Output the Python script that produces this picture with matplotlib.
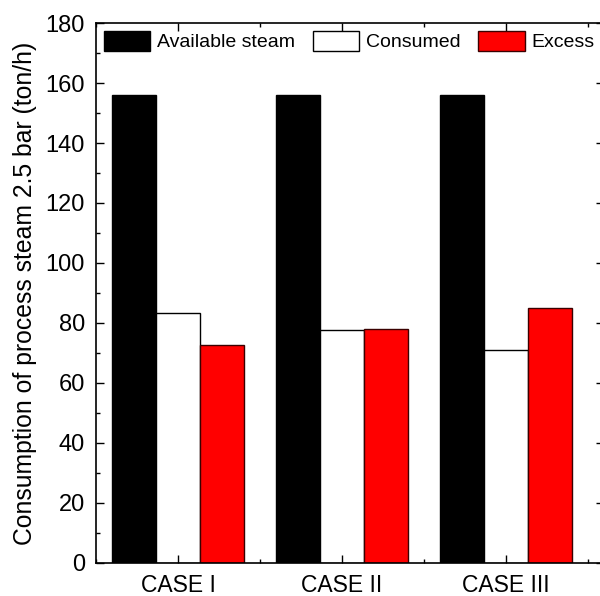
import matplotlib
matplotlib.use("Agg")
import matplotlib.pyplot as plt
import numpy as np
from matplotlib.ticker import MultipleLocator

plt.rcParams['font.family'] = ['Liberation Sans', 'DejaVu Sans']

categories = ["CASE I", "CASE II", "CASE III"]
available = [155.9, 155.9, 155.9]
consumed = [83.2, 77.8, 71.0]
excess = [72.7, 78.1, 84.9]
series_labels = ["Available steam", "Consumed", "Excess"]

fig = plt.figure(figsize=(6.0, 5.96), dpi=100)
ax = fig.add_axes([0.16, 0.0554, 0.847, 0.906])

x = np.arange(len(categories))
w = 0.268
ax.bar(x - w, available, w, color='black', edgecolor='black', linewidth=1, label=series_labels[0])
ax.bar(x, consumed, w, color='white', edgecolor='black', linewidth=1, label=series_labels[1])
ax.bar(x + w, excess, w, color='#ff0000', edgecolor='#3a0000', linewidth=1, label=series_labels[2])

ax.set_xlim(-0.5, 2.6)
ax.set_ylim(0, 180)
ax.set_xticks(x)
ax.set_xticklabels(categories)
ax.xaxis.set_minor_locator(MultipleLocator(0.5))
ax.yaxis.set_major_locator(MultipleLocator(20))
ax.yaxis.set_minor_locator(MultipleLocator(10))
ax.tick_params(axis='both', which='major', direction='in', length=6, width=1, top=True, right=True)
ax.tick_params(axis='both', which='minor', direction='in', length=3, width=1, top=True, right=True)
ax.tick_params(axis='y', which='major', labelsize=17, pad=8)
ax.tick_params(axis='x', which='major', labelsize=16.5, pad=8)
ax.set_ylabel("Consumption of process steam 2.5 bar (ton/h)", fontsize=17.8, labelpad=6)
for s in ax.spines.values():
    s.set_linewidth(1.2)

ax.legend(loc='upper left', bbox_to_anchor=(0.0, 1.0), ncol=3, frameon=False, fontsize=14,
          handlelength=2.4, handleheight=1.2, handletextpad=0.35, columnspacing=0.9,
          borderaxespad=0.25, borderpad=0.15)

fig.savefig("out.png", dpi=100)
